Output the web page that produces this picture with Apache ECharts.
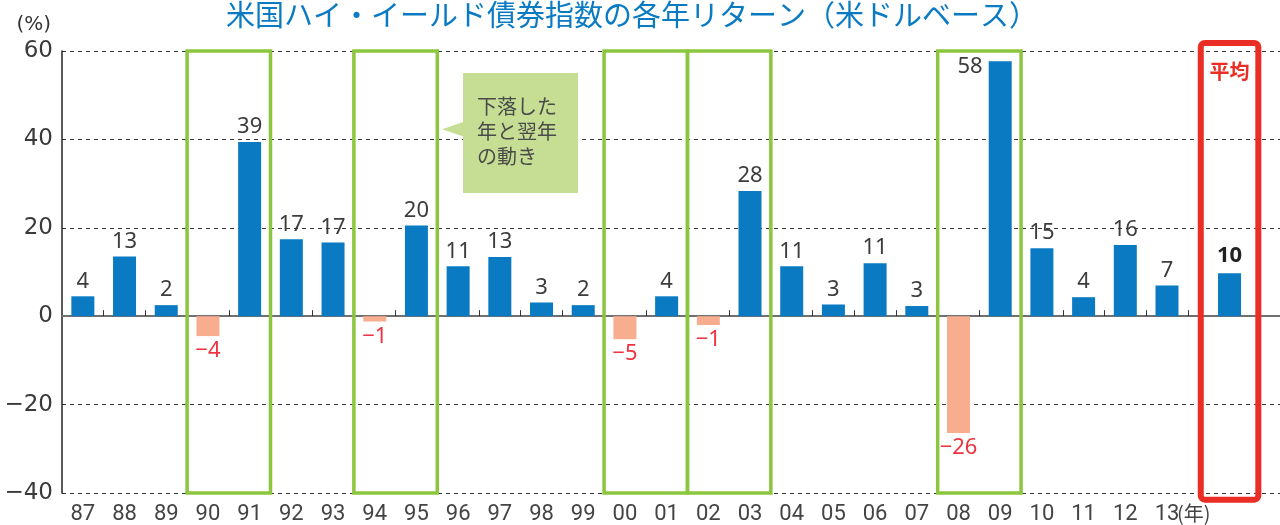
<!DOCTYPE html>
<html><head><meta charset="utf-8">
<script src="https://cdn.jsdelivr.net/npm/echarts@6/dist/echarts.min.js"></script>
<style>html,body{margin:0;padding:0;background:#fff}#c{width:1280px;height:525px}</style>
</head><body><div id="c"></div>
<script>
const titleText = '米国ハイ・イールド債券指数の各年リターン（米ドルベース）';
const years = ['87','88','89','90','91','92','93','94','95','96','97','98','99','00','01','02','03','04','05','06','07','08','09','10','11','12','13'];
const returns = [4.5,13.5,2.5,-4.5,39.4,17.4,16.7,-1.2,20.5,11.3,13.4,3.1,2.5,-5.2,4.5,-2.0,28.3,11.3,2.65,12.0,2.3,-26.4,57.7,15.4,4.3,16.1,6.95];
const returnLabels = [4,13,2,-4,39,17,17,-1,20,11,13,3,2,-5,4,-1,28,11,3,11,3,-26,58,15,4,16,7];
const averageReturn = 9.7;
const averageLabel = '10';
const averageName = '平均';
const highlightPairs = [['90','91'],['94','95'],['00','01'],['02','03'],['08','09']];
const yMin = -40, yMax = 60, yStep = 20;
const yUnit = '(%)';
const yearUnit = '(年)';
const calloutLines = ['下落した','年と翌年','の動き'];

const POS = '#0a7bc2', NEG = '#f7ad8e', RED_TXT = '#ee3340', GREEN = '#8cc63f', RED_BOX = '#ea2e25';
const XFONT = 'Roboto';
const fmt = v => (v < 0 ? '\u2212' + Math.abs(v) : String(v));
const avgPos = years.length + 0.5;
const xMax = 28.71;
const maxIdx = returns.indexOf(Math.max(...returns));

const barData = returns.map((v, i) => {
  const item = {
    value: [i, v],
    itemStyle: { color: v < 0 ? NEG : POS },
    label: { position: v < 0 ? 'bottom' : 'top', color: v < 0 ? RED_TXT : '#3c3c3c', formatter: fmt(returnLabels[i]) }
  };
  if (i === maxIdx) {
    item.label.position = [-6, -5];
    item.label.align = 'right';
    item.label.verticalAlign = 'top';
  }
  return item;
});
barData.push({
  value: [avgPos, averageReturn],
  itemStyle: { color: POS },
  label: { position: 'top', distance: 7, color: '#222', fontWeight: 'bold', formatter: averageLabel }
});

const areaData = highlightPairs.map(([a, b]) => [
  { xAxis: years.indexOf(a) - 0.5, yAxis: yMax },
  { xAxis: years.indexOf(b) + 0.5, yAxis: yMin }
]);

const chart = echarts.init(document.getElementById('c'));
chart.setOption({
  animation: false,
  title: { text: titleText, left: 226, top: 0, padding: 0,
    textStyle: { color: '#0a7bc2', fontSize: 29, fontWeight: 'normal', fontFamily: 'Noto Sans CJK JP' } },
  grid: { left: 62, right: 0, top: 51, bottom: 32, containLabel: false, outerBoundsMode: 'none' },
  xAxis: [
    { type: 'value', min: -0.5, max: xMax, position: 'bottom',
      axisLine: { onZero: true, lineStyle: { color: '#707070', width: 2 } },
      axisTick: { show: true, inside: true, length: 6, lineStyle: { color: '#333', width: 1 },
        customValues: years.map((_, i) => i + 0.5) },
      axisLabel: { show: false }, splitLine: { show: false } },
    { type: 'value', min: -0.5, max: xMax, position: 'bottom',
      axisLine: { show: false, onZero: false }, axisTick: { show: false }, splitLine: { show: false },
      axisLabel: { customValues: years.map((_, i) => i),
        formatter: v => years[Math.round(v)],
        margin: 10, fontSize: 22, color: '#444', fontFamily: XFONT } }
  ],
  yAxis: {
    type: 'value', min: yMin, max: yMax, interval: yStep,
    name: yUnit, nameLocation: 'end', nameGap: 16,
    nameTextStyle: { align: 'right', padding: [0, 11, 0, 0], fontSize: 20, color: '#333', fontFamily: 'DejaVu Sans' },
    axisLine: { show: true, onZero: false, lineStyle: { color: '#222', width: 1.5 } },
    axisTick: { show: false },
    axisLabel: { formatter: v => fmt(v), fontSize: 23, color: '#3a3a3a', fontFamily: 'DejaVu Sans', margin: 9 },
    splitLine: { lineStyle: { type: [4, 4], color: '#333', width: 1 } }
  },
  series: [{
    type: 'bar', xAxisIndex: 0, yAxisIndex: 0, barWidth: 23, data: barData,
    label: { show: true, distance: 4, fontSize: 22, fontFamily: 'Noto Sans' },
    markArea: { silent: true, data: areaData, label: { show: false },
      itemStyle: { color: 'rgba(0,0,0,0)', borderColor: GREEN, borderWidth: 3.5 } }
  }]
});

const p1 = chart.convertToPixel({ seriesIndex: 0 }, [avgPos - 0.69, 61.8]);
const p2 = chart.convertToPixel({ seriesIndex: 0 }, [avgPos + 0.69, -41.5]);
const pUnit = chart.convertToPixel({ seriesIndex: 0 }, [years.length - 1 + 0.64, yMin]);
chart.setOption({
  graphic: [
    { type: 'rect', z: 100, shape: { x: p1[0], y: p1[1], width: p2[0] - p1[0], height: p2[1] - p1[1], r: 4 },
      style: { fill: 'none', stroke: RED_BOX, lineWidth: 6 } },
    { type: 'text', z: 100, x: (p1[0] + p2[0]) / 2, y: 71,
      style: { text: averageName, fill: RED_BOX, font: 'bold 20px "Noto Sans CJK JP"', align: 'center', verticalAlign: 'middle' } },
    { type: 'polygon', z: 100, shape: { points: [[442, 129.3], [464, 121.7], [464, 136.7]] }, style: { fill: '#c5de93' } },
    { type: 'rect', z: 100, shape: { x: 463, y: 73, width: 115, height: 120 }, style: { fill: '#c5de93' } },
    { type: 'text', z: 101, x: 477, y: 94,
      style: { text: calloutLines.join('\n'), fill: '#4a4a4a', font: '20px "Noto Sans CJK JP"', lineHeight: 25 } },
    { type: 'text', z: 100, x: pUnit[0], y: pUnit[1] + 10,
      style: { text: yearUnit, fill: '#444', font: '20px "Noto Sans CJK JP"', align: 'center', verticalAlign: 'top' } }
  ]
});
</script></body></html>
